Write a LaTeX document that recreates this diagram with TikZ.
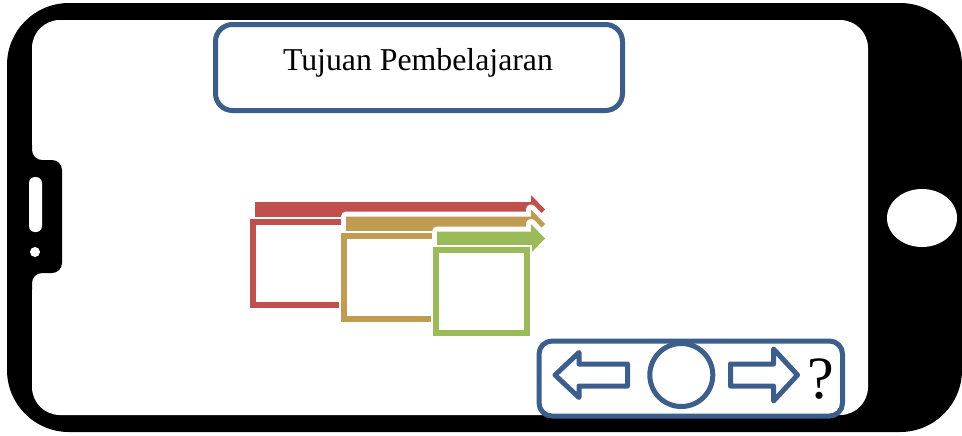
\documentclass[tikz,border=0pt]{standalone}
\usepackage{fontspec}
\setmainfont{Liberation Serif}
\definecolor{navblue}{HTML}{3B5E8C}
\definecolor{stepred}{HTML}{C0504D}
\definecolor{steptan}{HTML}{C09B52}
\definecolor{stepgreen}{HTML}{9BBB59}
\tikzset{
	frame/.style={fill=black},
	screen/.style={fill=white},
	titlebox/.style={draw=navblue, line width=2.5pt, fill=white, rounded corners=8.5pt, minimum width=203.5pt, minimum height=43pt, inner sep=0pt},
	navline/.style={draw=navblue, line width=2.5pt, fill=white, line join=round},
	stepbar/.style={fill=#1, preaction={draw=white, line width=5pt, line join=round}},
	stepbox/.style={draw=#1, line width=3pt, fill=white, preaction={draw=white, line width=5pt}},
}
\begin{document}
\begin{tikzpicture}[x=0.5pt, y=-0.5pt]
			\useasboundingbox (0,0) rectangle (962,435);
			\fill [frame, rounded corners=31pt] (7,3) rectangle (962,432);
			\fill [screen, rounded corners=14pt] (32,20) rectangle (868,415);
			\fill [frame, rounded corners=5pt] (20,135) -- (32,135) -- (32,160) -- (62,160) -- (62,273) -- (32,273) -- (32,300) -- (20,300) -- cycle;
			\fill [screen, rounded corners=3pt] (29,177) rectangle (42,232);
			\fill [screen] (35,252) circle (5);
			\fill [screen] (922,218) ellipse (35 and 29);
			\node [titlebox] (title) at (419,67.5) {};
			\node [anchor=base, font=\fontsize{15.9pt}{19pt}\selectfont] (titletext) at (418,70) {Tujuan Pembelajaran};
			\path [stepbar=stepred] (255,202) -- (531,202) -- (531,195) -- (545,209.5) -- (531,224) -- (531,217) -- (255,217) -- cycle;
			\path [stepbox=stepred] (252.5,222) rectangle (344,304.5);
			\path [stepbar=steptan] (346,216.5) -- (531,216.5) -- (531,209.5) -- (545,224) -- (531,238.5) -- (531,231.5) -- (346,231.5) -- cycle;
			\path [stepbox=steptan] (344,236) rectangle (435.5,319);
			\path [stepbar=stepgreen] (437,231.5) -- (531,231.5) -- (531,224) -- (545,238.5) -- (531,253) -- (531,246.5) -- (437,246.5) -- cycle;
			\path [stepbox=stepgreen] (435.5,250) rectangle (527,332.5);
			\draw [navline, rounded corners=6.5pt] (539,341) rectangle (842.5,416);
			\draw [navline] (555,375) -- (579,352.5) -- (579,364) -- (627.5,364) -- (627.5,386) -- (579,386) -- (579,397.5) -- cycle;
			\node [navline, circle, minimum size=31.5pt, inner sep=0pt] (home) at (681.3,375) {};
			\draw [navline] (730.5,364) -- (773.5,364) -- (773.5,349) -- (797.5,375) -- (773.5,401) -- (773.5,386) -- (730.5,386) -- cycle;
			\node [font=\fontsize{30pt}{34pt}\selectfont] (help) at (820.5,379.5) {?};
		\end{tikzpicture}
\end{document}
